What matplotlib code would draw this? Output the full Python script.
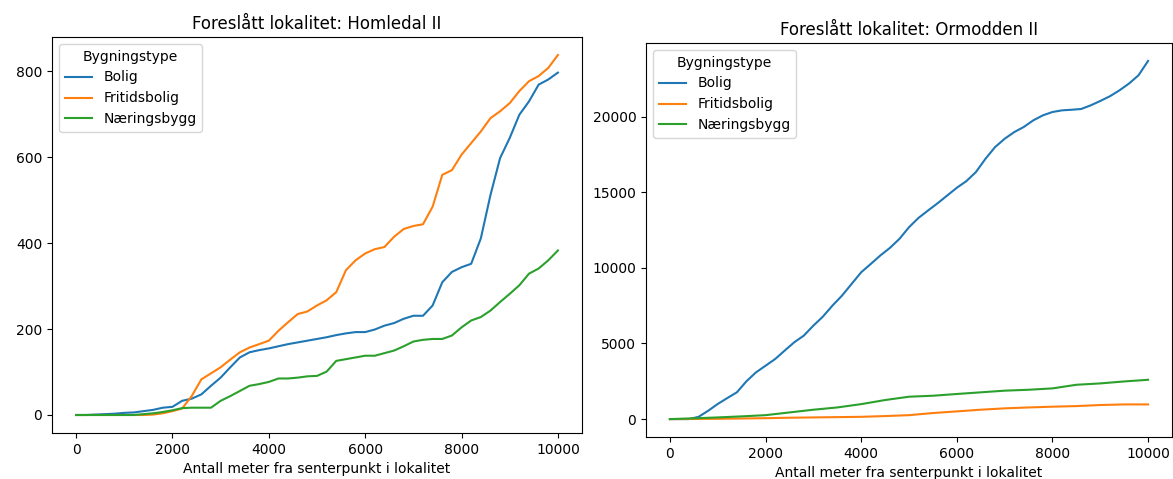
import numpy as np
import matplotlib
matplotlib.use("Agg")
import matplotlib.pyplot as plt

# Avstand fra senterpunkt (meter)
meter_200 = list(range(0, 10001, 200))
meter_500 = list(range(0, 10001, 500))

# Homledal II (kumulativt antall bygg)
homledal_bolig = [0, 0, 1, 2, 3, 5, 6, 9, 12, 17, 19, 33, 38, 48, 68, 87, 111, 134, 146, 151,
                  155, 160, 165, 169, 173, 177, 181, 186, 190, 193, 193, 199, 208, 214, 224, 231,
                  231, 255, 309, 333, 344, 352, 411, 512, 598, 645, 699, 730, 769, 781, 797]
homledal_fritid = [0, 0, 0, 0, 0, 0, 0, 0, 1, 4, 9, 15, 44, 83, 97, 111, 129, 146, 157, 165,
                   173, 196, 216, 235, 241, 255, 267, 286, 337, 360, 376, 386, 391, 415, 433, 440,
                   444, 485, 559, 570, 606, 633, 660, 691, 707, 726, 754, 777, 789, 808, 838]
homledal_naering = [0, 0, 0, 0, 0, 0, 0, 2, 4, 7, 11, 16, 17, 17, 17, 33, 44, 56, 68, 72,
                    77, 85, 85, 87, 90, 91, 101, 126, 130, 134, 138, 138, 144, 150, 160, 171,
                    175, 177, 177, 185, 204, 220, 228, 243, 263, 282, 302, 329, 341, 360, 383]

# Ormodden II
ormodden_bolig = [0, 0, 0, 150, 550, 1000, 1390, 1770, 2500, 3090, 3530, 3970, 4530, 5080, 5520,
                  6180, 6780, 7510, 8170, 8940, 9710, 10260, 10820, 11320, 11920, 12690, 13310,
                  13800, 14280, 14790, 15300, 15740, 16340, 17220, 17990, 18540, 18980, 19320,
                  19760, 20090, 20310, 20420, 20460, 20510, 20750, 21040, 21350, 21740, 22190,
                  22740, 23690]
ormodden_fritid = [0, 10, 20, 40, 60, 90, 110, 130, 150, 200, 260, 400, 510, 620, 710, 770,
                   820, 860, 930, 970, 970]
ormodden_naering = [0, 50, 110, 180, 260, 440, 620, 770, 990, 1260, 1480, 1545, 1660, 1770,
                    1880, 1940, 2030, 2270, 2360, 2490, 2600]

fig = plt.figure(figsize=(11.73, 4.79), dpi=100)
ax1 = fig.add_axes([52 / 1173, 46 / 479, 530 / 1173, 396 / 479])
ax2 = fig.add_axes([646 / 1173, 42 / 479, 526 / 1173, 394 / 479])

ax1.plot(meter_200, homledal_bolig, label="Bolig")
ax1.plot(meter_200, homledal_fritid, label="Fritidsbolig")
ax1.plot(meter_200, homledal_naering, label="Næringsbygg")
ax1.set_title("Foreslått lokalitet: Homledal II")
ax1.set_xlabel("Antall meter fra senterpunkt i lokalitet")
ax1.legend(title="Bygningstype", loc="upper left")

ax2.plot(meter_200, ormodden_bolig, label="Bolig")
ax2.plot(meter_500, ormodden_fritid, label="Fritidsbolig")
ax2.plot(meter_500, ormodden_naering, label="Næringsbygg")
ax2.set_title("Foreslått lokalitet: Ormodden II")
ax2.set_xlabel("Antall meter fra senterpunkt i lokalitet")
ax2.legend(title="Bygningstype", loc="upper left")

fig.savefig("out.png", dpi=100)
